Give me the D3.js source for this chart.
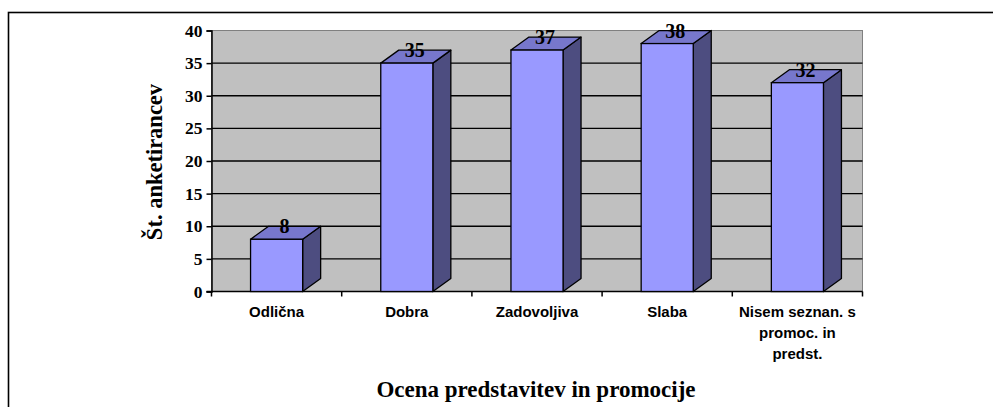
<!DOCTYPE html>
<html>
<head>
<meta charset="utf-8">
<script src="https://cdn.jsdelivr.net/npm/d3@7"></script>
<style>
  body { margin: 0; background: #fff; }
  svg { display: block; }
</style>
</head>
<body>
<div id="chart"></div>
<script>
var categories = ['Odlična', 'Dobra', 'Zadovoljiva', 'Slaba', 'Nisem seznan. s promoc. in predst.'];
var values = [8, 35, 37, 38, 32];
var yTicks = [0, 5, 10, 15, 20, 25, 30, 35, 40];

var W = 993, H = 407;
var svg = d3.select('#chart').append('svg')
  .attr('width', W)
  .attr('height', H);

// outer frame (runs off the right/bottom edge like the original)
svg.append('rect')
  .attr('x', 8.5).attr('y', 12.5)
  .attr('width', 1100).attr('height', 500)
  .attr('fill', 'none')
  .attr('stroke', '#000')
  .attr('stroke-width', 1.6);

var pLeft = 211.5, pRight = 862.5, pTop = 30.5, pBottom = 291.5;
var dx = 18, dy = 13;

var x = d3.scaleBand().domain(categories).range([pLeft, pRight]).padding(0);
var y = d3.scaleLinear().domain([0, 40]).range([pBottom, pTop]);

// plot area
svg.append('rect')
  .attr('x', pLeft).attr('y', pTop)
  .attr('width', pRight - pLeft).attr('height', pBottom - pTop)
  .attr('fill', '#c0c0c0')
  .attr('stroke', '#808080')
  .attr('stroke-width', 1);

// gridlines
svg.append('g')
  .selectAll('line')
  .data(yTicks.filter(function(d) { return d > 0 && d < 40; }))
  .enter().append('line')
  .attr('x1', pLeft).attr('x2', pRight)
  .attr('y1', function(d) { return y(d); })
  .attr('y2', function(d) { return y(d); })
  .attr('stroke', '#000')
  .attr('stroke-width', 1.3);

// y axis
var yAxis = d3.axisLeft(y).tickValues(yTicks).tickSize(5).tickPadding(4);
var gy = svg.append('g')
  .attr('transform', 'translate(' + pLeft + ',0)')
  .call(yAxis);
gy.select('.domain').attr('stroke', '#000').attr('stroke-width', 1.5);
gy.selectAll('.tick line').attr('stroke', '#000').attr('stroke-width', 1.5);
gy.selectAll('.tick text')
  .attr('fill', '#000')
  .style('font-family', '"Liberation Serif", "Times New Roman", serif')
  .style('font-weight', 'bold')
  .style('font-size', '17.5px');

// x axis
var xAxis = d3.axisBottom(x).tickSize(0).tickFormat('');
var gx = svg.append('g')
  .attr('transform', 'translate(0,' + pBottom + ')')
  .call(xAxis);
gx.select('.domain').attr('stroke', '#000').attr('stroke-width', 1.5)
  .attr('d', 'M' + (pLeft - 5) + ',0H' + pRight);
gx.selectAll('.tick').remove();

// tick marks at band edges
var edges = categories.map(function(c) { return x(c); }).concat([pRight]);
svg.append('g')
  .selectAll('line')
  .data(edges)
  .enter().append('line')
  .attr('x1', function(d) { return d; })
  .attr('x2', function(d) { return d; })
  .attr('y1', pBottom)
  .attr('y2', pBottom + 5)
  .attr('stroke', '#000')
  .attr('stroke-width', 1.5);

// category labels (wrapped to band width)
var labelFont = 'bold 15px "Liberation Sans", Arial, sans-serif';
var ctx = document.createElement('canvas').getContext('2d');
ctx.font = labelFont;
function wrap(text, maxW) {
  var words = text.split(' '), lines = [], line = '';
  words.forEach(function(w) {
    var test = line ? line + ' ' + w : w;
    if (ctx.measureText(test).width > maxW && line) {
      lines.push(line);
      line = w;
    } else {
      line = test;
    }
  });
  lines.push(line);
  return lines;
}

var labels = svg.append('g').selectAll('text')
  .data(categories)
  .enter().append('text')
  .attr('text-anchor', 'middle')
  .attr('fill', '#000')
  .style('font', labelFont);
labels.each(function(d) {
  var t = d3.select(this);
  var cx = x(d) + x.bandwidth() / 2;
  wrap(d, 124).forEach(function(line, i) {
    t.append('tspan')
      .attr('x', cx)
      .attr('y', 317 + i * 20.8)
      .text(line);
  });
});

// 3D bars
var bw = x.bandwidth() * 0.4;
var bars = svg.append('g').selectAll('g')
  .data(values)
  .enter().append('g');

function fx(i) { return x(categories[i]) + (x.bandwidth() - bw) / 2; }

// side face
bars.append('path')
  .attr('d', function(d, i) {
    var x0 = fx(i) + bw;
    return 'M' + x0 + ',' + y(d) + 'L' + (x0 + dx) + ',' + (y(d) - dy) +
      'L' + (x0 + dx) + ',' + (y(0) - dy) + 'L' + x0 + ',' + y(0) + 'Z';
  })
  .attr('fill', '#4d4d80')
  .attr('stroke', '#000')
  .attr('stroke-width', 1.3)
  .attr('stroke-linejoin', 'round');

// top face
bars.append('path')
  .attr('d', function(d, i) {
    var x0 = fx(i);
    return 'M' + x0 + ',' + y(d) + 'L' + (x0 + dx) + ',' + (y(d) - dy) +
      'L' + (x0 + bw + dx) + ',' + (y(d) - dy) + 'L' + (x0 + bw) + ',' + y(d) + 'Z';
  })
  .attr('fill', '#7777cc')
  .attr('stroke', '#000')
  .attr('stroke-width', 1.3)
  .attr('stroke-linejoin', 'round');

// front face
bars.append('rect')
  .attr('x', function(d, i) { return fx(i); })
  .attr('y', function(d) { return y(d); })
  .attr('width', bw)
  .attr('height', function(d) { return y(0) - y(d); })
  .attr('fill', '#9999ff')
  .attr('stroke', '#000')
  .attr('stroke-width', 1.3);

// value labels
bars.append('text')
  .attr('x', function(d, i) { return fx(i) + bw / 2 + 8; })
  .attr('y', function(d) { return y(d) - 6; })
  .attr('text-anchor', 'middle')
  .attr('fill', '#000')
  .style('font-family', '"Liberation Serif", "Times New Roman", serif')
  .style('font-weight', 'bold')
  .style('font-size', '20px')
  .text(function(d) { return d; });

// axis titles
svg.append('text')
  .attr('transform', 'translate(162,162) rotate(-90)')
  .attr('text-anchor', 'middle')
  .attr('fill', '#000')
  .style('font-family', '"Liberation Serif", "Times New Roman", serif')
  .style('font-weight', 'bold')
  .style('font-size', '22.5px')
  .text('Št. anketirancev');

svg.append('text')
  .attr('x', 536)
  .attr('y', 397)
  .attr('text-anchor', 'middle')
  .attr('fill', '#000')
  .style('font-family', '"Liberation Serif", "Times New Roman", serif')
  .style('font-weight', 'bold')
  .style('font-size', '23px')
  .text('Ocena predstavitev in promocije');
</script>
</body>
</html>
